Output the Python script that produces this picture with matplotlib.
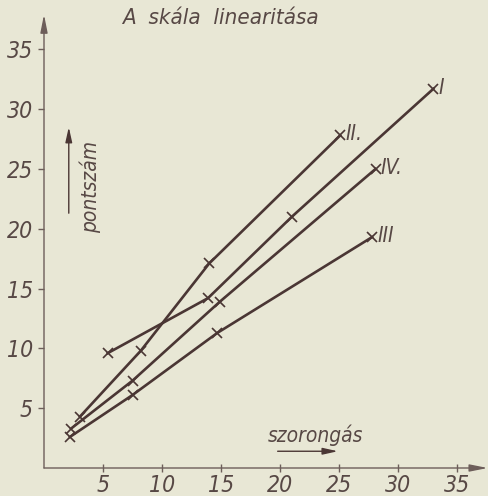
import matplotlib.pyplot as plt

# scale values
series_names = ['I', 'II.', 'III', 'IV.']
x_I = [5.4, 13.9, 21.0, 33.0]
y_I = [9.6, 14.2, 21.0, 31.7]
x_II = [3.05, 8.2, 14.0, 25.1]
y_II = [4.3, 9.8, 17.1, 27.8]
x_III = [2.2, 7.5, 14.7, 27.8]
y_III = [2.6, 6.1, 11.3, 19.3]
x_IV = [2.3, 7.5, 14.9, 28.1]
y_IV = [3.3, 7.3, 13.9, 25.0]
ticks = [5, 10, 15, 20, 25, 30, 35]

PAPER = '#e8e7d5'
INK = '#4a3634'
TEXT = '#574845'
AXIS = '#6d5e5a'

font = dict(family='DejaVu Sans', style='oblique', stretch='condensed', color=TEXT)

fig = plt.figure(figsize=(4.89, 4.96), dpi=100, facecolor=PAPER)
ax = fig.add_axes([44 / 489, 28 / 496, 442.5 / 489, 451 / 496])
ax.set_facecolor(PAPER)
ax.set_xlim(0, 37.5)
ax.set_ylim(0, 37.7)
for s in ax.spines.values():
    s.set_visible(False)

# axes with arrow heads
arr = dict(arrowstyle='-|>,head_length=0.9,head_width=0.18', color=AXIS, lw=1.0,
           shrinkA=0, shrinkB=0, mutation_scale=12)
ax.annotate('', xy=(0, 37.9), xytext=(0, 0), arrowprops=arr, annotation_clip=False)
ax.annotate('', xy=(37.6, 0), xytext=(0, 0), arrowprops=arr, annotation_clip=False)

ax.set_xticks(ticks)
ax.set_yticks(ticks)
ax.set_xticklabels([str(t) for t in ticks], fontsize=16.5, **font)
ax.set_yticklabels([str(t) for t in ticks], fontsize=16.5, **font)
ax.tick_params(axis='x', direction='inout', length=6, width=1, color=AXIS, pad=1)
ax.tick_params(axis='y', direction='out', length=4, width=1, color=AXIS, pad=4)

for xs, ys, name in zip([x_I, x_II, x_III, x_IV], [y_I, y_II, y_III, y_IV], series_names):
    ax.plot(xs, ys, color=INK, lw=1.9, marker='x', ms=6.5, mew=1.2, clip_on=False)
    ax.annotate(name, xy=(xs[-1], ys[-1]), xytext=(5, 1), textcoords='offset pixels',
                ha='left', va='center', fontsize=15, **font)

# axis captions with small arrows
small = dict(arrowstyle='-|>,head_length=0.9,head_width=0.2', color=INK, lw=1.0,
             shrinkA=0, shrinkB=0, mutation_scale=10)
ax.annotate('', xy=(2.1, 28.5), xytext=(2.1, 21.3), arrowprops=small)
ax.text(3.9, 23.5, 'pontszám', rotation=90, ha='center', va='center', fontsize=15, **font)
ax.annotate('', xy=(24.9, 1.4), xytext=(19.8, 1.4), arrowprops=small)
ax.text(23.0, 2.7, 'szorongás', ha='center', va='center', fontsize=15, **font)

fig.text(220 / 489, 1 - 18 / 496, 'A  skála  linearitása', ha='center', va='center',
         fontsize=16, **font)

fig.savefig('out.png', dpi=100, facecolor=PAPER)
